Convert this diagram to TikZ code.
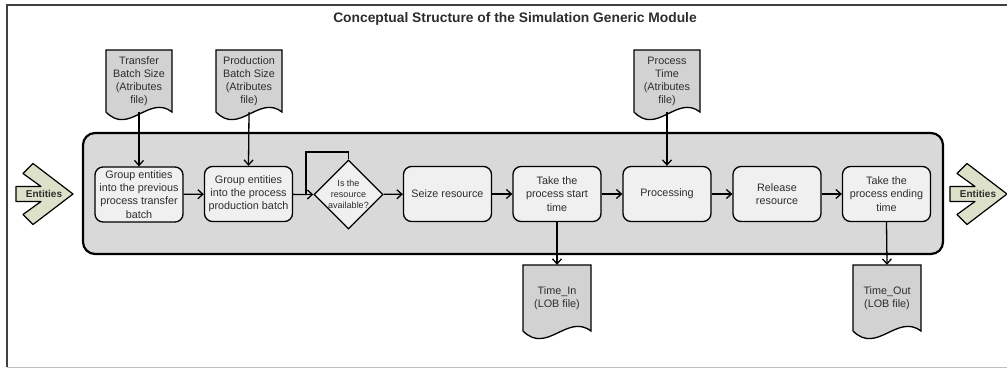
\documentclass[tikz,border=0pt]{standalone}
\usepackage{fontspec}
\setmainfont{Liberation Sans}
\usetikzlibrary{shapes.geometric}
\usetikzlibrary{arrows.meta}
\usepackage{xcolor}

\definecolor{entgreen}{RGB}{222,225,202}
\definecolor{txtgray}{RGB}{45,45,45}

% document symbol: name, centre x, top y, width, height, text
\newcommand{\docsym}[6]{%
  \draw[docfill] (#2-#4/2,#3) -- (#2+#4/2,#3) -- (#2+#4/2,#3+#5)
    .. controls (#2+#4/2-0.35*#4,#3+#5-18) and (#2-#4/2+0.35*#4,#3+#5+24) .. (#2-#4/2,#3+#5) -- cycle;
  \node[doctext, minimum width=#4, minimum height=#5] (#1) at (#2,#3+#5/2) {#6};
}
% entities arrow: name, left x, centre y
\newcommand{\entarrow}[3]{%
  \draw[entfill] (#2,#3-7.5) -- ++(25,0) -- ++(-18,-13) -- ++(10,-10) -- ++(40,30.5)
    -- ++(-40,30.5) -- ++(-10,-10) -- ++(18,-13) -- ++(-25,0) -- cycle;
  \node[enttext] (#1) at (#2+28,#3) {Entities};
}

\begin{document}
\begin{tikzpicture}[x=1pt, y=-1pt,
  proc/.style = {draw, rounded corners=8pt, fill=gray!12, line width=1.3pt,
    minimum width=88, minimum height=55, inner sep=1pt, align=center,
    text=txtgray, font=\fontsize{10.8}{13.2}\selectfont},
  decision/.style = {draw, diamond, fill=gray!12, line width=1.3pt,
    minimum width=65, minimum height=65, inner sep=0pt, align=center,
    text=txtgray, font=\fontsize{9}{11}\selectfont},
  docfill/.style = {draw, fill=gray!35, line width=1.3pt},
  doctext/.style = {inner sep=0pt, align=center, text=txtgray,
    font=\fontsize{10.8}{13}\selectfont},
  entfill/.style = {draw, fill=entgreen, line width=1.2pt, line join=round},
  enttext/.style = {inner sep=0pt, font=\fontsize{10}{12}\selectfont\bfseries, text=txtgray},
  link/.style = {-{Straight Barb[length=5pt, width=9pt]}, line width=1.3pt}
]
\useasboundingbox (0,0) rectangle (1007,369);
\draw[gray!50!black, line width=1.2pt] (1007,5) -- (7,5) -- (7,367);
\draw[gray!50] (7,367) -- (1007,367);

\node[font=\fontsize{13.8}{16}\selectfont\bfseries, text=txtgray] (title) at (515,19)
  {Conceptual Structure of the Simulation Generic Module};

% module frame
\node[draw, fill=gray!30, rounded corners=12pt, line width=2.2pt,
  minimum width=860, minimum height=121] (module) at (513,193.5) {};

% steps
\node[proc] (grpprev) at (139,194.5) {Group entities\\into the previous\\process transfer\\batch};
\node[proc] (grpproc) at (248.5,194) {Group entities\\into the process\\production batch};
\node[decision] (avail) at (348.5,194.5) {Is the\\resource\\available?};
\node[proc] (seize) at (447.5,194) {Seize resource};
\node[proc] (tstart) at (557,194) {Take the\\process start\\time};
\node[proc] (procg) at (667,194) {Processing};
\node[proc] (release) at (777,194) {Release\\resource};
\node[proc] (tend) at (886.5,194) {Take the\\process ending\\time};

% files
\docsym{tsize}{139}{50}{66}{62}{Transfer\\Batch Size\\(Atributes\\file)}
\docsym{psize}{249}{50}{66}{62}{Production\\Batch Size\\(Atributes\\file)}
\docsym{ptime}{667}{50}{66}{62}{Process\\Time\\(Atributes\\file)}
\docsym{tin}{557}{265}{68}{66}{Time\_In\\(LOB file)}
\docsym{tout}{887}{265}{68}{66}{Time\_Out\\(LOB file)}

% entities in and out
\entarrow{entin}{16}{194}
\entarrow{entout}{950}{194}

% flow
\coordinate (retry) at (306,194.5);
\draw[line width=1.3pt] (grpproc) -- (retry);
\draw[link] (retry) -- (avail);
\draw[line width=1.3pt] (avail.north) -- (348.5,152) -| (retry);
\draw[link] (avail) -- (seize);
\draw[link] (grpprev) -- (grpproc);
\draw[link] (seize) -- (tstart);
\draw[link] (tstart) -- (procg);
\draw[link] (procg) -- (release);
\draw[link] (release) -- (tend);
\draw[link] (tsize.south) -- (grpprev.north);
\draw[link] (psize.south) -- (grpproc.north);
\draw[link] (ptime.south) -- (procg.north);
\draw[link] (tstart.south) -- (tin.north);
\draw[link] (tend.south) -- (tout.north);
\end{tikzpicture}
\end{document}
